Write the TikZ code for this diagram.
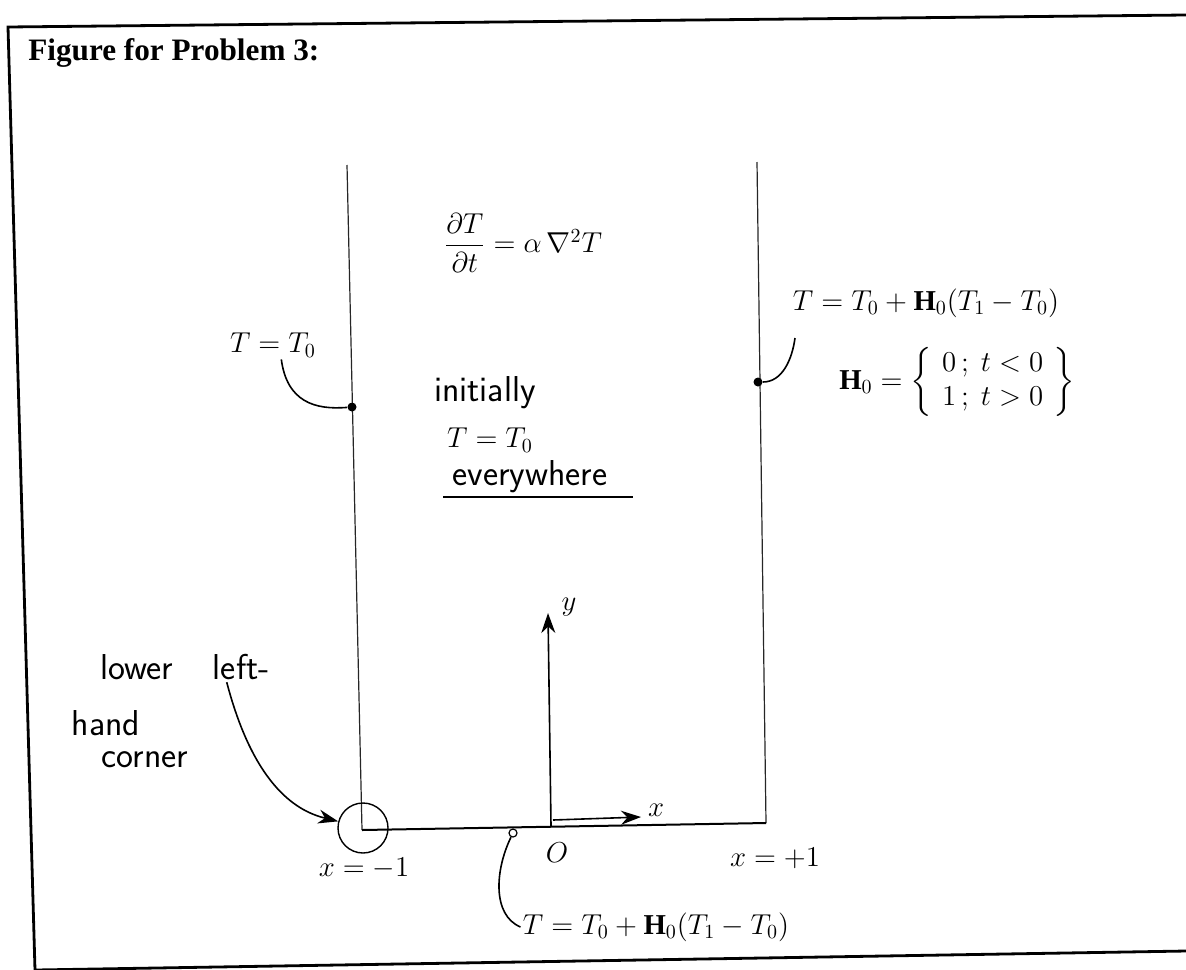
\documentclass[tikz,border=0pt]{standalone}
\usepackage{amsmath,amssymb}
\usepackage{fontspec}
\setmainfont{Liberation Serif}
\usetikzlibrary{arrows.meta,positioning,calc}

\tikzset{
  handtext/.style={font=\sffamily\fontsize{18}{21}\selectfont, inner sep=1pt},
  eqtext/.style={font=\fontsize{14.4}{17}\selectfont, inner sep=1pt},
  walldot/.style={circle, fill=black, inner sep=0pt, minimum size=4.5pt},
  wall/.style={line width=0.6pt, black!85},
  leader/.style={line width=0.8pt},
  axisarrow/.style={line width=0.8pt, -{Stealth[length=10pt,width=7pt]}},
}

\begin{document}
\begin{tikzpicture}[x=0.5pt, y=-0.5pt]
\useasboundingbox (0,0) rectangle (1186,969);

% Frame of the sheet
\draw[line width=1.4pt] (1186,15) -- (8,27) -- (35,970) -- (1186,951);

% Title
\node[anchor=base west, font=\bfseries\fontsize{15.6}{18}\selectfont,
      inner sep=0pt] (title) at (28,60) {Figure for Problem 3:};

% Walls of the channel
\coordinate (ll) at (362,830);
\coordinate (lr) at (766,823);
\draw[wall] (347,165) -- (ll);
\draw[wall] (757,162) -- (lr);
\draw[line width=1pt] (ll) -- (lr);

% Marked points on the walls
\node[walldot] (dotL) at (352,407) {};
\node[walldot] (dotR) at (758,382) {};
\node[circle, draw, fill=white, inner sep=0pt, minimum size=4pt,
      line width=0.6pt] (dotB) at (513,833) {};

% Lower left-hand corner
\node[circle, draw, line width=0.7pt, minimum size=25pt,
      inner sep=0pt] (corner) at (363,828) {};

% Axes
\coordinate (origin) at (551,826);
\coordinate (ytip) at (548,613);
\coordinate (xstart) at (553,820);
\coordinate (xtip) at (641,817);
\draw[axisarrow] (origin) -- (ytip);
\draw[axisarrow] (xstart) -- (xtip);
\node[eqtext] (xlab) at (656,810) {$x$};
\node[eqtext] (ylab) at (569,607) {$y$};

% Governing equation and initial state
\node[eqtext] (pde) at (523,243) {$\dfrac{\partial T}{\partial t} = \alpha\,\nabla^2 T$};
\node[handtext] (init) at (485,393) {initially};
\node[eqtext] (initT) at (490,440) {$T = T_0$};
\node[handtext] (every) at (530,477) {everywhere};
\draw[line width=0.8pt] (443,497) -- (633,497);

% Left wall condition
\node[eqtext] (TzeroL) at (273,345) {$T = T_0$};
\draw[leader] (TzeroL.-60) .. controls (287,402) and (315,410) .. (dotL);

% Right wall condition
\node[eqtext] (TbcR) at (926,303) {$T = T_0 + \mathbf{H}_0(T_1 - T_0)$};
\coordinate (TbcRfoot) at (795,338);
\draw[leader] (dotR) .. controls (782,382) and (792,360) .. (TbcRfoot);
\node[eqtext] (Hzero) at (957,382)
     {$\mathbf{H}_0 = \left\{\begin{array}{l} 0\,;\ t<0 \\ 1\,;\ t>0 \end{array}\right\}$};

% Corner note
\node[handtext] (lower) at (185,667) {lower\hspace{0.8em} left-};
\node[handtext] (hand) at (106,723) {hand};
\node[handtext] (cornerlab) at (145,760) {corner};
\draw[leader, -{Stealth[length=10pt,width=7pt]}] (lower.-20)
     .. controls (255,790) and (300,812) .. (corner.165);

% Positions along the bottom
\node[eqtext] (xminus) at (364,868) {$x=-1$};
\node[eqtext] (orig) at (557,853) {$O$};
\node[eqtext] (xplus) at (775,858) {$x=+1$};

% Bottom wall condition
\node[eqtext] (TbcB) at (656,927) {$T = T_0 + \mathbf{H}_0(T_1 - T_0)$};
\draw[leader] (dotB) .. controls (495,870) and (492,915) .. (TbcB.west);

\end{tikzpicture}
\end{document}
